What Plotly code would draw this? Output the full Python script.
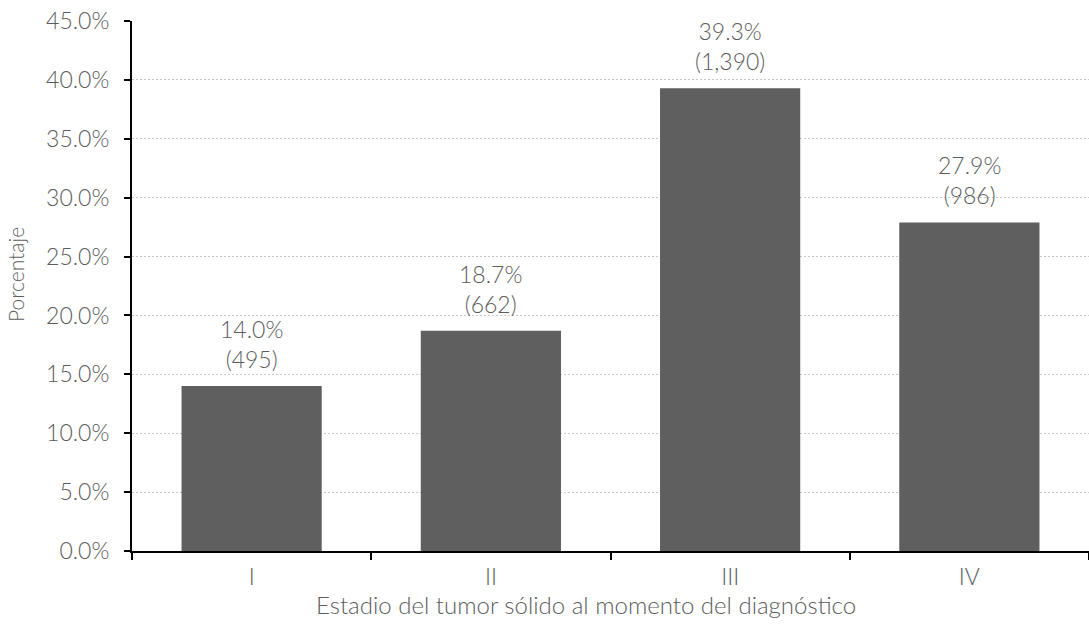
import plotly.graph_objects as go

# Stage of solid tumour at diagnosis: share of patients and counts
stages = ["I", "II", "III", "IV"]
percentages = [14.0, 18.7, 39.3, 27.9]
counts = [495, 662, 1390, 986]
y_ticks = [0, 5, 10, 15, 20, 25, 30, 35, 40, 45]

FONT = "Lato"
WEIGHT = 300
TEXT_GRAY = "#5c5c5c"
BAR_COLOR = "#5f5f5f"

labels = [f"{p:.1f}%<br>({c:,})" for p, c in zip(percentages, counts)]

fig = go.Figure(
    go.Bar(
        x=stages,
        y=percentages,
        marker=dict(color=BAR_COLOR, line=dict(width=0)),
        hoverinfo="skip",
    )
)

# value labels above each bar
for stage, pct, lab in zip(stages, percentages, labels):
    fig.add_annotation(
        x=stage,
        y=pct,
        text=lab,
        showarrow=False,
        yanchor="bottom",
        yshift=11,
        font=dict(family=FONT, size=23, color=TEXT_GRAY, weight=WEIGHT),
    )

# y-axis title
fig.add_annotation(
    text="Porcentaje",
    xref="paper",
    yref="paper",
    x=0,
    y=0.5,
    xanchor="center",
    yanchor="middle",
    xshift=-117,
    yshift=11,
    textangle=-90,
    showarrow=False,
    font=dict(family=FONT, size=21, color=TEXT_GRAY, weight=WEIGHT),
)

# x-axis title
fig.add_annotation(
    text="Estadio del tumor sólido al momento del diagnóstico",
    xref="paper",
    yref="paper",
    x=0.5,
    y=0,
    xanchor="center",
    yanchor="middle",
    xshift=-25,
    yshift=-53,
    showarrow=False,
    font=dict(family=FONT, size=24, color=TEXT_GRAY, weight=WEIGHT),
)

fig.update_layout(
    width=1089,
    height=631,
    margin=dict(l=132, r=0, t=21, b=80),
    paper_bgcolor="white",
    plot_bgcolor="white",
    bargap=0.414,
    showlegend=False,
    font=dict(family=FONT, color=TEXT_GRAY, weight=WEIGHT),
)

fig.update_xaxes(
    showgrid=False,
    showline=True,
    linecolor="black",
    linewidth=2,
    ticks="outside",
    tickson="boundaries",
    ticklen=7,
    tickwidth=2,
    tickcolor="black",
    ticklabelstandoff=4,
    tickfont=dict(family=FONT, size=23, color=TEXT_GRAY, weight=WEIGHT),
)

fig.update_yaxes(
    range=[0, 45],
    tickvals=y_ticks,
    ticktext=[f"{v:.1f}%" for v in y_ticks],
    showgrid=True,
    gridcolor="#c8c8c8",
    griddash="2px,2px",
    gridwidth=1,
    showline=True,
    linecolor="black",
    linewidth=2,
    ticks="outside",
    ticklen=6,
    tickwidth=2,
    tickcolor="black",
    ticklabelstandoff=10,
    tickfont=dict(family=FONT, size=23, color=TEXT_GRAY, weight=WEIGHT),
    zeroline=False,
)

fig.write_html("out.html")
